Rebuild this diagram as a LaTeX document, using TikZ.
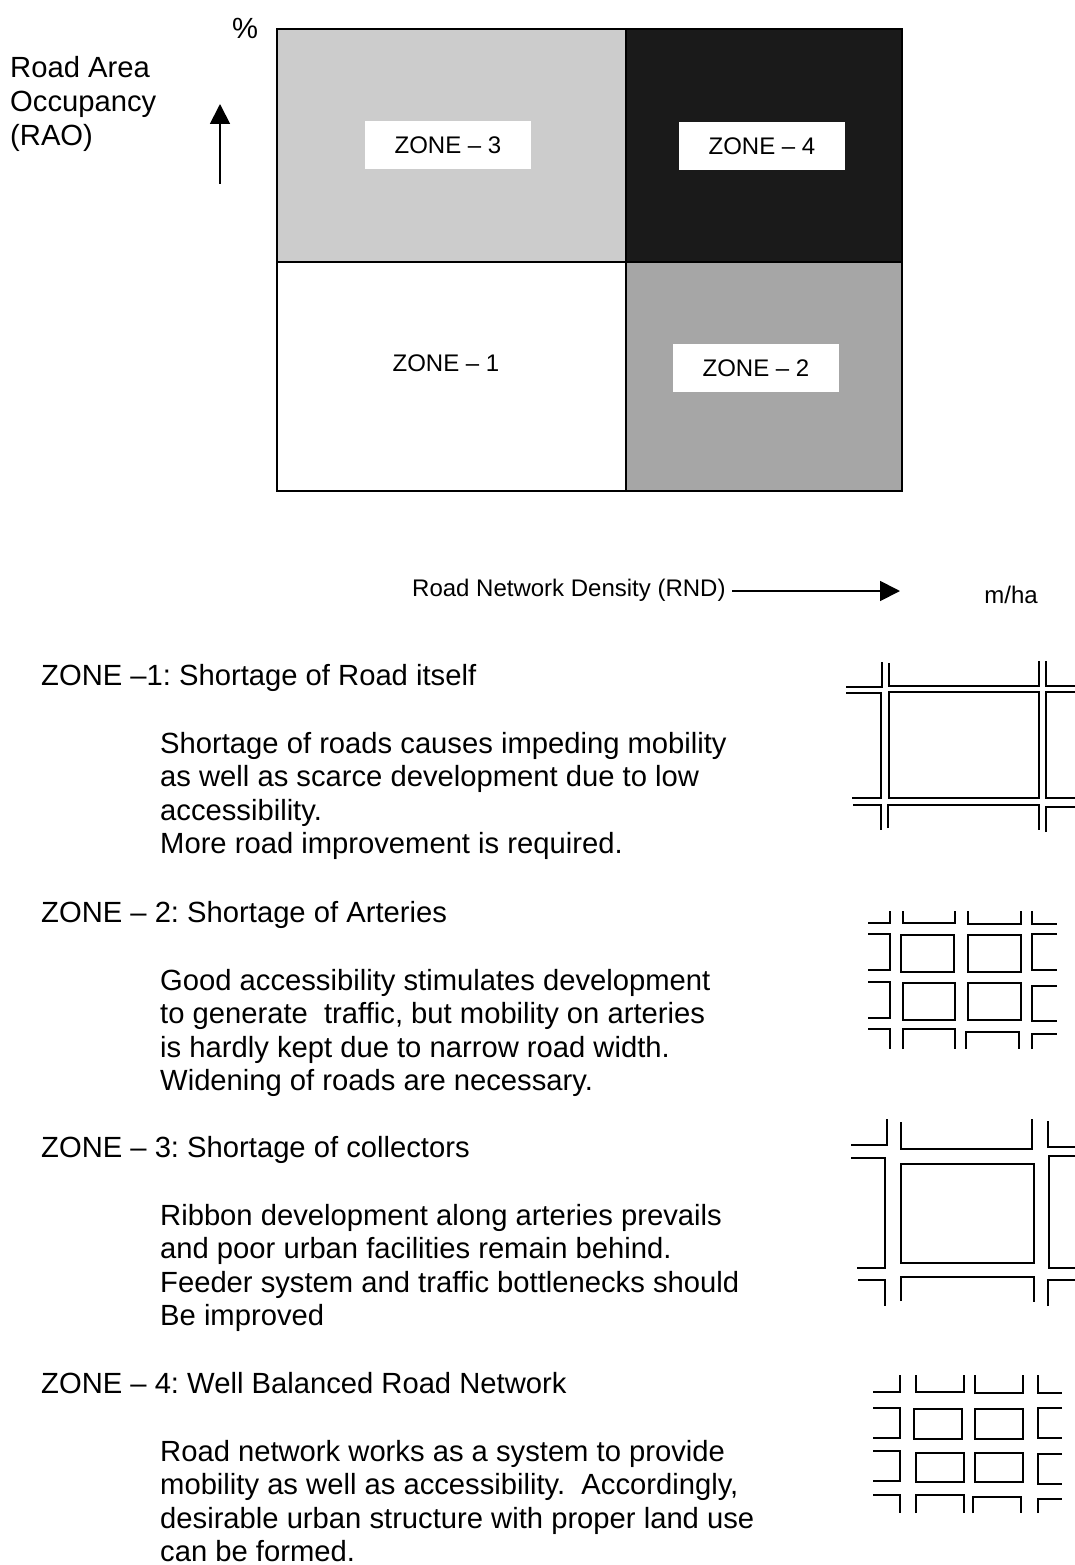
\documentclass[tikz,border=0pt]{standalone}
\usepackage{fontspec}
\setmainfont{Liberation Sans}
\usetikzlibrary{arrows.meta}
\definecolor{zonelight}{HTML}{CCCCCC}
\definecolor{zonemid}{HTML}{A6A6A6}
\definecolor{zonedark}{HTML}{1A1A1A}
\begin{document}
\frenchspacing
\begin{tikzpicture}[
  x=1pt, y=-1pt,
  lbl/.style     = {inner sep=0pt, font=\fontsize{29.2}{33.6}\selectfont},
  bodytxt/.style = {lbl, anchor=west, align=left},
  headtxt/.style = {lbl, anchor=base west},
  zonelbl/.style = {inner sep=0pt, font=\fontsize{24}{28}\selectfont},
  zonebox/.style = {zonelbl, fill=white, minimum width=166pt, minimum height=48pt},
  cell/.style    = {draw=black, line width=2pt},
  axis/.style    = {black, line width=1.8pt, -{Triangle[length=20pt,width=20pt]}},
  road/.style    = {black, line width=1.7pt}
]
\useasboundingbox (0,0) rectangle (1075,1565);

% ---- ZONE CHART ----
\fill[zonelight] (277,29) rectangle (626,262);
\fill[zonedark] (626,29) rectangle (902,262);
\fill[zonemid] (626,262) rectangle (902,491);
\draw[cell] (277,262) -- (902,262);
\draw[cell] (626,29) -- (626,491);
\draw[black, line width=2.5pt] (277,29) rectangle (902,491);
\node[zonebox] (z3) at (448,145) {ZONE – 3};
\node[zonebox] (z4) at (762,146) {ZONE – 4};
\node[zonebox] (z2) at (756,368) {ZONE – 2};
\node[zonelbl] (z1) at (446,363) {ZONE – 1};

% ---- AXES ----
\node[lbl, anchor=center] (pct) at (245,28) {\%};
\node[bodytxt, anchor=west] (rao) at (10,104) {Road Area\\Occupancy\\(RAO)};
\coordinate (raofoot) at (220,184);
\coordinate (raotip) at (220,104);
\draw[axis] (raofoot) -- (raotip);
\node[zonelbl, anchor=west] (rnd) at (412,590) {Road Network Density (RND)};
\coordinate (rndtip) at (900,591);
\coordinate (rndfoot) at (732,591);
\draw[axis] (rndfoot) -- (rndtip);
\node[zonelbl, anchor=center] (unit) at (1011,595) {m/ha};

% ---- ZONE NOTES ----
\node[headtxt] (h1) at (41,685) {ZONE –1: Shortage of Road itself};
\node[bodytxt] (t1) at (160,796) {Shortage of roads causes impeding mobility\\as well as scarce development due to low\\accessibility.\\More road improvement is required.};
\node[headtxt] (h2) at (41,922) {ZONE – 2: Shortage of Arteries};
\node[bodytxt] (t2) at (160,1033) {Good accessibility stimulates development\\to generate\ \ traffic, but mobility on arteries\\is hardly kept due to narrow road width.\\Widening of roads are necessary.};
\node[headtxt] (h3) at (41,1157) {ZONE – 3: Shortage of collectors};
\node[bodytxt] (t3) at (160,1268) {Ribbon development along arteries prevails\\and poor urban facilities remain behind.\\Feeder system and traffic bottlenecks should\\Be improved};
\node[headtxt] (h4) at (41,1393) {ZONE – 4: Well Balanced Road Network};
\node[bodytxt] (t4) at (160,1501) {Road network works as a system to provide\\mobility as well as accessibility.\ \ Accordingly,\\desirable urban structure with proper land use\\can be formed.};

% ---- ROADS: ZONE 1 ----
\draw[road] (846,687) -- (882,687) -- (882,662);
\draw[road] (889,663) -- (889,686) -- (1039,686) -- (1039,661);
\draw[road] (1046,661) -- (1046,686) -- (1075,686);
\draw[road] (846,693) -- (881,693) -- (881,798) -- (852,798);
\draw[road] (889,692) rectangle (1039,798);
\draw[road] (1075,692) -- (1046,692) -- (1046,798) -- (1075,798);
\draw[road] (853,805) -- (881,805) -- (881,830);
\draw[road] (888,828) -- (888,805) -- (1039,805) -- (1039,830);
\draw[road] (1046,832) -- (1046,807) -- (1075,807);

% ---- ROADS: ZONE 2 ----
\draw[road] (868,923) -- (890,923) -- (890,911);
\draw[road] (903,911) -- (903,923) -- (955,923) -- (955,911);
\draw[road] (968,911) -- (968,924) -- (1021,924) -- (1021,911);
\draw[road] (1032,911) -- (1032,924) -- (1057,924);
\draw[road] (868,934) -- (890,934) -- (890,970) -- (868,970);
\draw[road] (901,935) rectangle (954,972);
\draw[road] (968,935) rectangle (1021,972);
\draw[road] (1057,934) -- (1032,934) -- (1032,970) -- (1057,970);
\draw[road] (868,982) -- (890,982) -- (890,1018) -- (868,1018);
\draw[road] (903,983) rectangle (955,1020);
\draw[road] (968,983) rectangle (1021,1020);
\draw[road] (1057,986) -- (1032,986) -- (1032,1021) -- (1057,1021);
\draw[road] (868,1029) -- (890,1029) -- (890,1049);
\draw[road] (903,1049) -- (903,1029) -- (955,1029) -- (955,1049);
\draw[road] (966,1049) -- (966,1032) -- (1019,1032) -- (1019,1049);
\draw[road] (1032,1049) -- (1032,1034) -- (1057,1034);

% ---- ROADS: ZONE 3 ----
\draw[road] (851,1145) -- (887,1145) -- (887,1119);
\draw[road] (901,1122) -- (901,1149) -- (1032,1149) -- (1032,1119);
\draw[road] (1048,1121) -- (1048,1147) -- (1075,1147);
\draw[road] (851,1158) -- (885,1158) -- (885,1268) -- (857,1268);
\draw[road] (901,1164) rectangle (1034,1263);
\draw[road] (1075,1156) -- (1049,1156) -- (1049,1268) -- (1075,1268);
\draw[road] (858,1280) -- (885,1280) -- (885,1306);
\draw[road] (901,1301) -- (901,1277) -- (1034,1277) -- (1034,1302);
\draw[road] (1048,1306) -- (1048,1280) -- (1075,1280);

% ---- ROADS: ZONE 4 ----
\draw[road] (873,1392) -- (900,1392) -- (900,1375);
\draw[road] (916,1375) -- (916,1392) -- (964,1392) -- (964,1375);
\draw[road] (975,1375) -- (975,1393) -- (1023,1393) -- (1023,1375);
\draw[road] (1038,1375) -- (1038,1393) -- (1062,1393);
\draw[road] (873,1408) -- (900,1408) -- (900,1438) -- (873,1438);
\draw[road] (914,1409) rectangle (962,1439);
\draw[road] (975,1409) rectangle (1023,1439);
\draw[road] (1062,1408) -- (1038,1408) -- (1038,1438) -- (1062,1438);
\draw[road] (873,1451) -- (900,1451) -- (900,1481) -- (873,1481);
\draw[road] (916,1453) rectangle (964,1482);
\draw[road] (975,1453) rectangle (1023,1482);
\draw[road] (1062,1454) -- (1038,1454) -- (1038,1484) -- (1062,1484);
\draw[road] (873,1495) -- (900,1495) -- (900,1513);
\draw[road] (916,1513) -- (916,1495) -- (964,1495) -- (964,1513);
\draw[road] (973,1513) -- (973,1497) -- (1021,1497) -- (1021,1513);
\draw[road] (1038,1513) -- (1038,1499) -- (1062,1499);

\end{tikzpicture}
\end{document}
